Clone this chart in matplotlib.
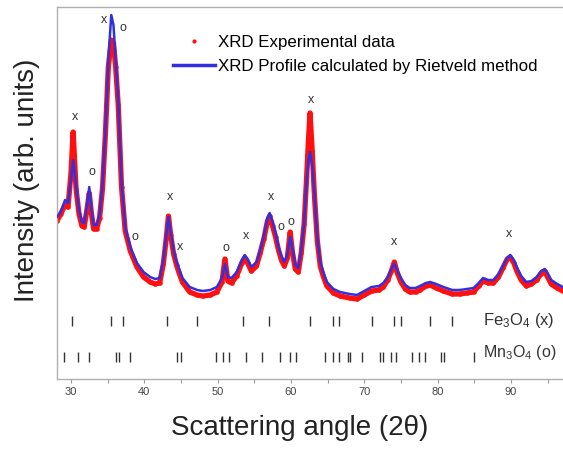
import matplotlib
matplotlib.use("Agg")
import matplotlib.pyplot as plt
from matplotlib.lines import Line2D

plt.rcParams['font.family'] = ['Liberation Sans', 'DejaVu Sans']
plt.rcParams['mathtext.fontset'] = 'custom'
plt.rcParams['mathtext.rm'] = 'Liberation Sans'
plt.rcParams['mathtext.it'] = 'Liberation Sans'

# --- data (intensity in arbitrary units) ---
two_theta = [28.1, 28.6, 29.2, 29.6, 30.0, 30.3, 30.7, 31.1, 31.5, 31.8,
             32.2, 32.5, 32.8, 33.1, 33.5, 33.9, 34.3, 34.7, 35.1, 35.5,
             35.8, 36.1, 36.45, 36.9, 37.4, 38.1, 39.0, 39.9, 40.8, 41.5,
             42.1, 42.6, 43.0, 43.3, 43.6, 44.0, 44.4, 44.8, 45.2, 46.2,
             47.2, 48.0, 49.0, 49.9, 50.6, 51.0, 51.4, 51.9, 52.6, 53.3,
             53.7, 54.1, 54.6, 55.3, 55.8, 56.3, 56.8, 57.1, 57.5, 57.9,
             58.3, 58.7, 59.1, 59.5, 59.9, 60.2, 60.6, 61.0, 61.4, 61.8,
             62.1, 62.4, 62.6, 62.9, 63.2, 63.6, 64.0, 64.4, 64.9, 65.8,
             66.7, 68.0, 69.0, 70.0, 71.0, 72.0, 72.6, 73.2, 73.7, 74.1,
             74.5, 75.0, 75.6, 76.2, 77.0, 77.6, 78.4, 79.0, 79.8, 80.8,
             82.0, 83.0, 84.0, 84.9, 85.6, 86.2, 86.9, 87.6, 88.3, 88.9,
             89.5, 89.9, 90.4, 90.8, 91.4, 92.1, 92.8, 93.5, 94.1, 94.6,
             95.0, 95.5, 96.3, 97.1]

calc = [162, 167, 179, 176, 199, 219, 194, 169, 157, 156,
        174, 192, 169, 154, 154, 164, 194, 249, 319, 364,
        354, 319, 279, 196, 152, 132, 116, 107, 102, 100,
        101, 119, 144, 162, 147, 129, 117, 109, 101, 92,
        89, 88, 89, 92, 101, 115, 102, 101, 107, 119,
        124, 120, 112, 117, 129, 143, 161, 166, 157, 146,
        132, 123, 117, 124, 142, 131, 114, 111, 129, 157,
        194, 219, 227, 214, 186, 141, 117, 107, 97, 90,
        87, 85, 84, 88, 92, 93, 96, 102, 110, 115,
        109, 101, 94, 91, 91, 93, 96, 97, 95, 92,
        89, 89, 90, 91, 96, 101, 99, 99, 105, 113,
        121, 124, 119, 112, 103, 97, 98, 102, 108, 110,
        106, 99, 95, 92]

expt = [158, 165, 174, 172, 205, 247, 190, 165, 153, 152,
        170, 186, 165, 150, 150, 161, 190, 245, 312, 339,
        336, 312, 274, 192, 148, 128, 112, 102, 97, 95,
        96, 115, 141, 163, 144, 125, 114, 105, 97, 87,
        84, 83, 84, 87, 97, 120, 98, 96, 103, 116,
        121, 116, 108, 113, 126, 140, 158, 163, 153, 142,
        129, 119, 113, 121, 147, 127, 110, 107, 126, 155,
        196, 240, 266, 228, 184, 138, 113, 103, 93, 86,
        83, 81, 80, 84, 88, 89, 92, 99, 108, 117,
        106, 97, 90, 87, 87, 89, 93, 94, 91, 88,
        85, 85, 86, 87, 93, 98, 96, 96, 102, 111,
        120, 122, 116, 108, 99, 93, 95, 99, 105, 108,
        102, 95, 91, 88]

fe3o4_pos = [30.1, 35.5, 37.1, 43.1, 47.2, 53.5, 57.0, 62.6, 65.8, 66.5,
             71.0, 74.0, 75.0, 79.0, 82.0]
mn3o4_pos = [29.0, 30.9, 32.5, 36.1, 36.6, 38.1, 44.4, 45.0, 49.8, 50.8,
             51.5, 53.9, 56.0, 58.5, 59.9, 60.7, 64.6, 65.7, 66.5, 67.8,
             68.1, 69.7, 72.2, 72.5, 73.6, 74.3, 76.5, 77.4, 78.3, 80.4,
             80.9, 85.0]

peak_marks = ['x', 'o', 'x', 'o', 'o', 'x', 'x', 'o', 'x', 'x', 'o', 'o', 'x', 'x', 'x']
peak_mark_x = [30.5, 32.9, 34.5, 37.1, 38.7, 43.5, 44.9, 51.1, 53.9, 57.3, 58.6, 60.0, 62.7, 74.0, 89.7]
peak_mark_y = [262, 207, 359, 351, 142, 182, 132, 131, 143, 182, 152, 157, 279, 137, 145]

fe_row, mn_row = 58, 22

fig = plt.figure(figsize=(5.63, 4.53), dpi=100)
ax = fig.add_axes([57 / 563, 74 / 453, 506 / 563, 372 / 453])

# experimental points as a thick red band, calculated profile on top
ax.plot(two_theta, expt, color='#ff1010', lw=3.8, marker='o', ms=2.2,
        solid_capstyle='round', zorder=2)
ax.plot(two_theta, calc, color='#3030e0', lw=1.8, zorder=3)

ax.vlines(fe3o4_pos, fe_row - 5, fe_row + 5, color='#333333', lw=1.0)
ax.vlines(mn3o4_pos, mn_row - 5, mn_row + 5, color='#333333', lw=1.0)
ax.text(86.2, fe_row + 1, 'Fe$_3$O$_4$ (x)', fontsize=12, color='#333333', va='center')
ax.text(86.2, mn_row + 4, 'Mn$_3$O$_4$ (o)', fontsize=11.5, color='#333333', va='center')

for m, px, py in zip(peak_marks, peak_mark_x, peak_mark_y):
    ax.text(px, py, m, fontsize=9, color='#333333', ha='center', va='center')

handles = [Line2D([], [], color='#ff1010', marker='.', ms=4, ls='none'),
           Line2D([], [], color='#3030e0', lw=2.5)]
ax.legend(handles, ['XRD Experimental data', 'XRD Profile calculated by Rietveld method'],
          loc='upper left', bbox_to_anchor=(0.212, 0.947), frameon=False,
          fontsize=12.2, handlelength=2.5, handletextpad=0.2, borderpad=0,
          labelspacing=0.5)

ax.set_xlim(28.1, 97.1)
ax.set_ylim(0, 372)
ax.set_xticks([30, 40, 50, 60, 70, 80, 90])
ax.set_xticks([35, 45, 55, 65, 75, 85, 95], minor=True)
ax.set_yticks([])
ax.tick_params(axis='x', which='both', direction='out', length=3, width=0.8,
               color='#999999', labelsize=8, labelcolor='#444444', pad=3)
for side in ['left', 'bottom', 'top']:
    ax.spines[side].set_color('#b0b0b0')
    ax.spines[side].set_linewidth(1.0)
ax.spines['right'].set_visible(False)

fig.text(27 / 563, 1 - 180 / 453, 'Intensity (arb. units)', rotation=90,
         fontsize=20, ha='center', va='center', color='#222222')
fig.text(300 / 563, 1 - 428 / 453, 'Scattering angle (2θ)', fontsize=20,
         ha='center', va='center', color='#222222')

fig.savefig('out.png', dpi=100)
